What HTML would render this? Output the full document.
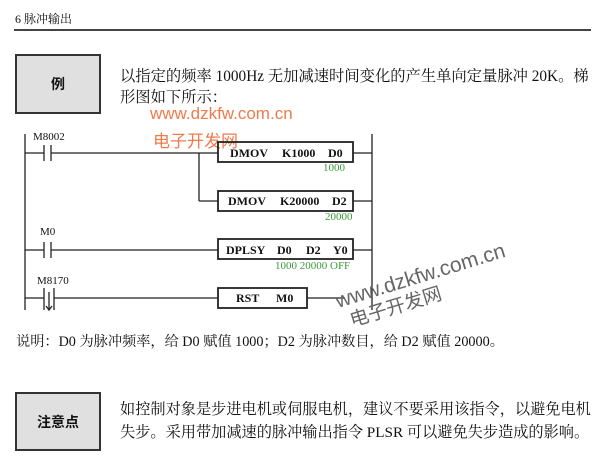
<!DOCTYPE html>
<html><head><meta charset="utf-8"><style>
body{margin:0;width:600px;height:475px;background:#fff;position:relative;overflow:hidden;font-family:"Liberation Serif","Noto Serif CJK SC",serif;color:#111}
.t{position:absolute;white-space:nowrap}
.box{position:absolute;background:#e0e0e0;border:2px solid #333;box-sizing:border-box;display:flex;align-items:center;justify-content:center;font-weight:bold;font-size:14px;font-family:"Liberation Sans","Noto Sans CJK SC",sans-serif}
</style></head><body>
<div class="t" style="left:15px;top:10px;font-size:12px;">6 脉冲输出</div>
<div style="position:absolute;left:14px;top:29px;width:577px;height:2px;background:#444"></div>
<div class="box" style="left:15px;top:54px;width:86px;height:60px">例</div>
<div class="t" style="left:120px;top:66px;font-size:15.3px;line-height:21px">以指定的频率 1000Hz 无加减速时间变化的产生单向定量脉冲 20K。梯<br>形图如下所示：</div>
<div class="t" style="left:150px;top:104px;font-size:17px;color:#f07a4a;font-family:'Liberation Sans',sans-serif">www.dzkfw.com.cn</div>
<div class="t" style="left:153px;top:127px;font-size:17px;color:#f07a4a;font-family:'Noto Sans CJK SC',sans-serif">电子开发网</div>
<svg style="position:absolute;left:0;top:0" width="600" height="475">
<g stroke="#222" stroke-width="1.3" fill="none">
<line x1="25" y1="134" x2="25" y2="310"/><line x1="372" y1="134" x2="372" y2="310"/>
<line x1="25" y1="153" x2="44" y2="153"/><line x1="44" y1="145" x2="44" y2="161"/><line x1="51" y1="145" x2="51" y2="161"/><line x1="51" y1="153" x2="218" y2="153"/>
<line x1="199" y1="153" x2="199" y2="201"/><line x1="199" y1="201" x2="218" y2="201"/>
<rect x="218" y="142" width="135" height="20" stroke-width="1.8"/><line x1="353" y1="153" x2="372" y2="153"/>
<rect x="218" y="191" width="135" height="20" stroke-width="1.8"/><line x1="353" y1="201" x2="372" y2="201"/>
<line x1="25" y1="250" x2="44" y2="250"/><line x1="44" y1="242" x2="44" y2="258"/><line x1="51" y1="242" x2="51" y2="258"/><line x1="51" y1="250" x2="218" y2="250"/>
<rect x="218" y="239" width="135" height="20" stroke-width="1.8"/><line x1="353" y1="250" x2="372" y2="250"/>
<line x1="25" y1="298" x2="44" y2="298"/><line x1="44" y1="288" x2="44" y2="310"/><line x1="54" y1="288" x2="54" y2="310"/><line x1="54" y1="298" x2="218" y2="298"/>
<line x1="49" y1="292" x2="49" y2="310"/><polyline points="46,306 49,310 52,306"/>
<rect x="218" y="288" width="89" height="20" stroke-width="1.8"/><line x1="307" y1="298" x2="345" y2="298"/>
</g>
<g font-family="Liberation Serif,serif" font-size="12" fill="#111">
<text x="33" y="140" font-size="11">M8002</text>
<text x="230" y="157" font-weight="bold">DMOV</text><text x="282" y="157" font-weight="bold">K1000</text><text x="328" y="157" font-weight="bold">D0</text>
<text x="228" y="205" font-weight="bold">DMOV</text><text x="280" y="205" font-weight="bold">K20000</text><text x="332" y="205" font-weight="bold">D2</text>
<text x="40" y="235" font-size="11">M0</text>
<text x="226" y="254" font-weight="bold">DPLSY</text><text x="277" y="254" font-weight="bold">D0</text><text x="306" y="254" font-weight="bold">D2</text><text x="333" y="254" font-weight="bold">Y0</text>
<text x="37" y="284" font-size="11">M8170</text>
<text x="236" y="302" font-weight="bold">RST</text><text x="276" y="302" font-weight="bold">M0</text>
<g fill="#3a9a3a" font-size="11"><text x="323" y="171">1000</text><text x="325" y="220">20000</text><text x="275" y="269">1000 20000 OFF</text></g>
</g>
<g transform="translate(338,308) rotate(-17)" fill="#666" font-family="Liberation Sans,Noto Sans CJK SC,sans-serif">
<text x="0" y="0" font-size="21">www.dzkfw.com.cn</text>
<text x="8" y="22" font-size="19">电子开发网</text></g>
</svg>
<div class="t" style="left:16px;top:331px;font-size:14.2px">说明：D0 为脉冲频率，给 D0 赋值 1000；D2 为脉冲数目，给 D2 赋值 20000。</div>
<div class="box" style="left:15px;top:392px;width:86px;height:59px">注意点</div>
<div class="t" style="left:120px;top:398px;font-size:15.2px;line-height:23px">如控制对象是步进电机或伺服电机，建议不要采用该指令，以避免电机<br>失步。采用带加减速的脉冲输出指令 PLSR 可以避免失步造成的影响。</div>
</body></html>
